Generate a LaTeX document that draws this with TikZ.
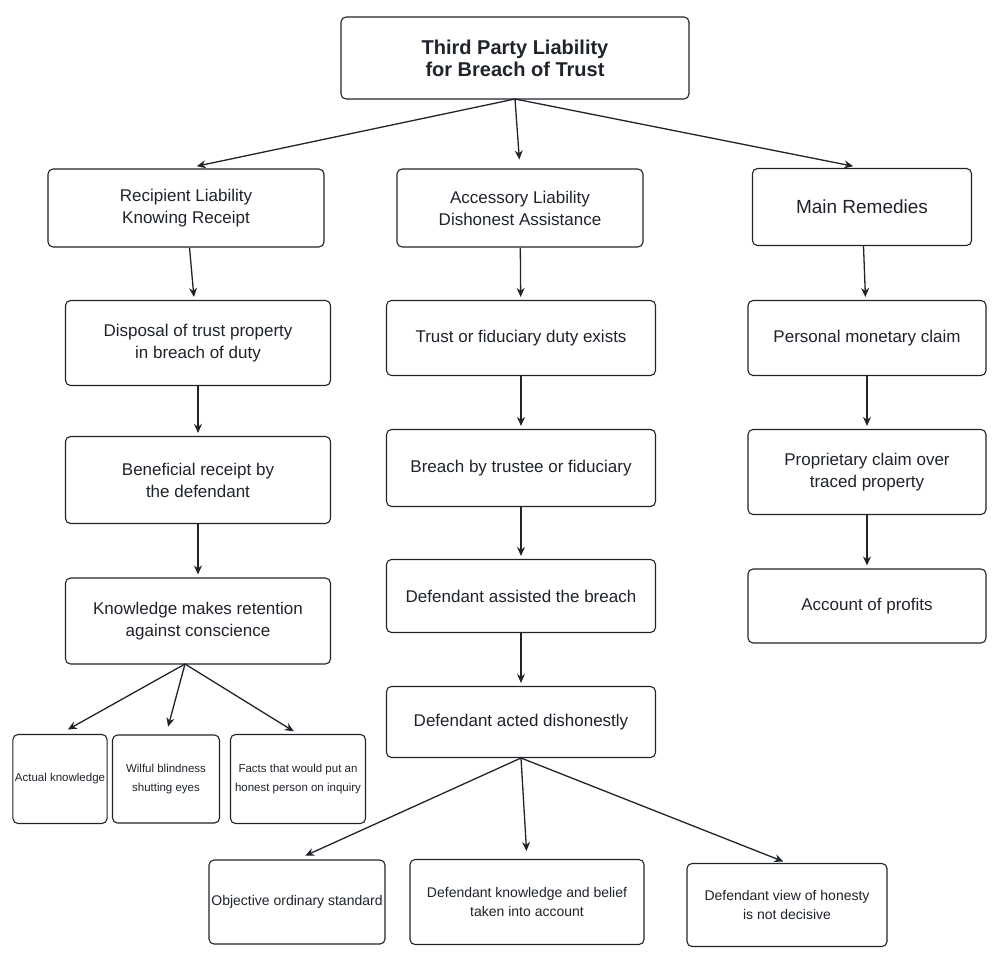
\documentclass[tikz,border=0pt]{standalone}
\usepackage{fontspec}
\setmainfont{Liberation Sans}
\usetikzlibrary{arrows.meta}
\definecolor{ink}{HTML}{1F242B}
\begin{document}
\begin{tikzpicture}[x=1pt,y=-1pt,
 box/.style={draw=ink,line width=1.1pt,rounded corners=5pt,fill=white,align=center,text=ink,inner sep=2pt,font=\fontsize{17}{22}\selectfont},
 sm/.style={box,font=\fontsize{11.5}{19}\selectfont},
 arr/.style={draw=ink,line width=1.3pt,-{Stealth[length=9pt,width=8pt]}}]
\useasboundingbox (0,0) rectangle (1003,965);
\newcommand\bx[6]{\node[#1,minimum width=#4pt,minimum height=#5pt] (#2) at (#3) {#6};}
\bx{box}{t}{515,58}{348}{82}{\fontsize{20}{29}\selectfont\bfseries Third Party Liability\\\fontsize{20}{29}\selectfont\bfseries for Breach of Trust}
\bx{box}{r}{186,208}{276}{78}{Recipient Liability\\Knowing Receipt}
\bx{box}{a}{520,208}{246}{78}{Accessory Liability\\Dishonest Assistance}
\bx{box}{m}{862,207}{219}{77}{\fontsize{19}{22}\selectfont Main Remedies}
\bx{box}{r1}{198,343}{265}{85}{Disposal of trust property\\in breach of duty}
\bx{box}{r2}{198,480}{265}{87}{Beneficial receipt by\\the defendant}
\bx{box}{r3}{198,621}{265}{86}{Knowledge makes retention\\against conscience}
\bx{sm}{k1}{60,779}{86}{89}{Actual knowledge}
\bx{sm}{k2}{166,779}{107}{88}{Wilful blindness\\shutting eyes}
\bx{sm}{k3}{298,779}{135}{89}{Facts that would put an\\honest person on inquiry}
\bx{box}{a1}{521,338}{269}{75}{Trust or fiduciary duty exists}
\bx{box}{a2}{521,468}{269}{77}{Breach by trustee or fiduciary}
\bx{box}{a3}{521,596}{269}{73}{Defendant assisted the breach}
\bx{box}{a4}{521,722}{269}{71}{Defendant acted dishonestly}
\bx{sm}{d1}{297,902}{176}{84}{\fontsize{14}{20}\selectfont Objective ordinary standard}
\bx{sm}{d2}{527,902}{234}{85}{\fontsize{14}{20}\selectfont Defendant knowledge and belief\\\fontsize{14}{20}\selectfont taken into account}
\bx{sm}{d3}{787,905}{200}{83}{\fontsize{14}{20}\selectfont Defendant view of honesty\\\fontsize{14}{20}\selectfont is not decisive}
\bx{box}{m1}{867,338}{238}{75}{Personal monetary claim}
\bx{box}{m2}{867,472}{238}{85}{Proprietary claim over\\traced property}
\bx{box}{m3}{867,606}{238}{74}{Account of profits}
\coordinate (tb) at (515,99);
\coordinate (kb) at (185,664);
\coordinate (ab) at (521,758);
\draw[arr,shorten >=11pt] (tb) -- (r.north);
\draw[arr,shorten >=9pt] (tb) -- (a.north);
\draw[arr,shorten >=9pt] (tb) -- (m.north);
\foreach \p/\q in {r/r1,r1/r2,r2/r3,a/a1,a1/a2,a2/a3,a3/a4,m/m1,m1/m2,m2/m3}
 \draw[arr,shorten >=3pt] (\p) -- (\q);
\draw[arr,shorten >=9pt] (kb) -- (k1.north);
\draw[arr,shorten >=8pt] (kb) -- (k2.north);
\draw[arr,shorten >=5pt] (kb) -- (k3.north);
\draw[arr,shorten >=9pt] (ab) -- (d1.north);
\draw[arr,shorten >=8pt] (ab) -- (d2.north);
\draw[arr,shorten >=4pt] (ab) -- (d3.north);
\end{tikzpicture}
\end{document}
